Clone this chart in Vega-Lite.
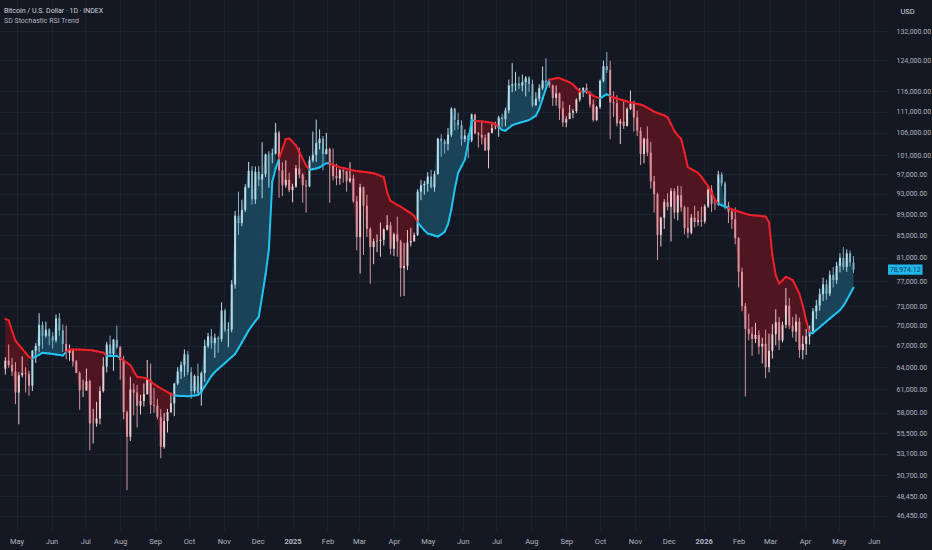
{
  "$schema": "https://vega.github.io/schema/vega-lite/v6.json",
  "width": 888,
  "height": 530,
  "autosize": {"type": "none"},
  "padding": {"left": 0, "top": 0, "right": 44, "bottom": 20},
  "background": "#141823",
  "title": {
    "text": "Bitcoin / U.S. Dollar · 1D · INDEX",
    "subtitle": "SD Stochastic RSI Trend",
    "anchor": "start",
    "frame": "group",
    "orient": "top",
    "offset": -24,
    "dx": 4,
    "font": "Roboto",
    "fontSize": 7,
    "fontWeight": "normal",
    "color": "#d1d4dc",
    "subtitleFont": "Roboto",
    "subtitleFontSize": 7,
    "subtitleColor": "#b2b5be",
    "subtitlePadding": 3
  },
  "data": {
    "values": [
      {"d":"2024-04-21","o":63800,"h":65400,"l":63000,"c":64900,"t":71000},
      {"d":"2024-04-24","o":64900,"h":67200,"l":63900,"c":64300,"t":70800},
      {"d":"2024-04-27","o":64300,"h":65300,"l":62800,"c":63400,"t":69200},
      {"d":"2024-04-30","o":63400,"h":64700,"l":59100,"c":60600,"t":67750},
      {"d":"2024-05-03","o":60600,"h":63300,"l":56600,"c":62900,"t":67150},
      {"d":"2024-05-06","o":62900,"h":65500,"l":62600,"c":63200,"t":66570},
      {"d":"2024-05-09","o":63200,"h":64000,"l":60600,"c":63100,"t":65990},
      {"d":"2024-05-12","o":63100,"h":63500,"l":60200,"c":61500,"t":65420},
      {"d":"2024-05-15","o":61500,"h":66400,"l":60800,"c":66300,"t":65210},
      {"d":"2024-05-18","o":66300,"h":67400,"l":64600,"c":67000,"t":65490},
      {"d":"2024-05-21","o":67000,"h":71900,"l":66100,"c":70100,"t":65760},
      {"d":"2024-05-24","o":70100,"h":70600,"l":66600,"c":68500,"t":66010},
      {"d":"2024-05-27","o":68500,"h":70600,"l":68200,"c":69400,"t":65960},
      {"d":"2024-05-30","o":69400,"h":69600,"l":67100,"c":68400,"t":65900},
      {"d":"2024-06-02","o":68400,"h":69000,"l":66600,"c":67800,"t":65830},
      {"d":"2024-06-05","o":67800,"h":71700,"l":67500,"c":71100,"t":65760},
      {"d":"2024-06-08","o":71100,"h":71900,"l":68500,"c":69300,"t":65700},
      {"d":"2024-06-11","o":69300,"h":70200,"l":66100,"c":67300,"t":65630},
      {"d":"2024-06-14","o":67300,"h":70000,"l":65100,"c":66000,"t":66130},
      {"d":"2024-06-17","o":66000,"h":67200,"l":64900,"c":66400,"t":66510},
      {"d":"2024-06-20","o":66400,"h":66600,"l":64100,"c":64800,"t":66500},
      {"d":"2024-06-23","o":64800,"h":65000,"l":63200,"c":63200,"t":66490},
      {"d":"2024-06-26","o":63200,"h":63400,"l":58400,"c":60900,"t":66470},
      {"d":"2024-06-29","o":60900,"h":62300,"l":60000,"c":60900,"t":66440},
      {"d":"2024-07-02","o":60900,"h":63800,"l":60800,"c":62100,"t":66410},
      {"d":"2024-07-05","o":62100,"h":62300,"l":53500,"c":56700,"t":66410},
      {"d":"2024-07-08","o":56700,"h":58500,"l":54300,"c":56700,"t":66340},
      {"d":"2024-07-11","o":56700,"h":59400,"l":56300,"c":57300,"t":66240},
      {"d":"2024-07-14","o":57300,"h":61400,"l":56600,"c":60800,"t":66140},
      {"d":"2024-07-17","o":60800,"h":65400,"l":60600,"c":64100,"t":66040},
      {"d":"2024-07-20","o":64100,"h":67600,"l":63300,"c":67200,"t":65560},
      {"d":"2024-07-23","o":67200,"h":68500,"l":65500,"c":65900,"t":65560},
      {"d":"2024-07-26","o":65900,"h":68000,"l":63500,"c":67900,"t":65560},
      {"d":"2024-07-29","o":67900,"h":70000,"l":66600,"c":66800,"t":65560},
      {"d":"2024-08-01","o":66800,"h":67000,"l":62300,"c":65000,"t":65280},
      {"d":"2024-08-04","o":65000,"h":65600,"l":57200,"c":58100,"t":64970},
      {"d":"2024-08-07","o":58100,"h":58300,"l":49100,"c":55100,"t":64620},
      {"d":"2024-08-10","o":55100,"h":62700,"l":54600,"c":61000,"t":64300},
      {"d":"2024-08-13","o":61000,"h":61800,"l":57700,"c":60600,"t":63450},
      {"d":"2024-08-16","o":60600,"h":61600,"l":56200,"c":58900,"t":62690},
      {"d":"2024-08-19","o":58900,"h":60300,"l":57800,"c":59500,"t":62620},
      {"d":"2024-08-22","o":59500,"h":61800,"l":58800,"c":60400,"t":62550},
      {"d":"2024-08-25","o":60400,"h":65000,"l":60300,"c":62300,"t":62420},
      {"d":"2024-08-28","o":62300,"h":64500,"l":57900,"c":59000,"t":62070},
      {"d":"2024-08-31","o":59000,"h":61200,"l":58000,"c":58900,"t":61730},
      {"d":"2024-09-03","o":58900,"h":59800,"l":57200,"c":57500,"t":61410},
      {"d":"2024-09-06","o":57500,"h":58500,"l":52600,"c":53900,"t":61160},
      {"d":"2024-09-09","o":53900,"h":58000,"l":53700,"c":57000,"t":60900},
      {"d":"2024-09-12","o":57000,"h":58500,"l":55600,"c":58100,"t":60660},
      {"d":"2024-09-15","o":58100,"h":60600,"l":58000,"c":59200,"t":60370},
      {"d":"2024-09-18","o":59200,"h":61800,"l":57600,"c":61800,"t":60210},
      {"d":"2024-09-21","o":61800,"h":64000,"l":61600,"c":63400,"t":60190},
      {"d":"2024-09-24","o":63400,"h":64800,"l":62400,"c":64300,"t":60160},
      {"d":"2024-09-27","o":64300,"h":66500,"l":62700,"c":65800,"t":60140},
      {"d":"2024-09-30","o":65800,"h":66300,"l":62900,"c":63300,"t":60110},
      {"d":"2024-10-03","o":63300,"h":64000,"l":59800,"c":60800,"t":60140},
      {"d":"2024-10-06","o":60800,"h":63000,"l":60500,"c":62800,"t":60210},
      {"d":"2024-10-09","o":62800,"h":64500,"l":60300,"c":60600,"t":60290},
      {"d":"2024-10-12","o":60600,"h":63400,"l":58900,"c":63200,"t":60700},
      {"d":"2024-10-15","o":63200,"h":67900,"l":62000,"c":67000,"t":61390},
      {"d":"2024-10-18","o":67000,"h":68900,"l":66700,"c":68400,"t":62100},
      {"d":"2024-10-21","o":68400,"h":69500,"l":66600,"c":67400,"t":62800},
      {"d":"2024-10-24","o":67400,"h":68800,"l":65300,"c":68200,"t":63340},
      {"d":"2024-10-27","o":68200,"h":68400,"l":66000,"c":68000,"t":63750},
      {"d":"2024-10-30","o":68000,"h":73600,"l":67600,"c":72300,"t":64160},
      {"d":"2024-11-02","o":72300,"h":72600,"l":69000,"c":69300,"t":64580},
      {"d":"2024-11-05","o":69300,"h":70500,"l":66800,"c":69400,"t":65000},
      {"d":"2024-11-08","o":69400,"h":77200,"l":69000,"c":76500,"t":65420},
      {"d":"2024-11-11","o":76500,"h":89600,"l":75800,"c":88700,"t":65840},
      {"d":"2024-11-14","o":88700,"h":93400,"l":85100,"c":87300,"t":66650},
      {"d":"2024-11-17","o":87300,"h":91800,"l":86700,"c":89800,"t":67510},
      {"d":"2024-11-20","o":89800,"h":94900,"l":89400,"c":94300,"t":68390},
      {"d":"2024-11-23","o":94300,"h":99600,"l":94100,"c":97700,"t":69270},
      {"d":"2024-11-26","o":97700,"h":98700,"l":90800,"c":91900,"t":70000},
      {"d":"2024-11-29","o":91900,"h":98600,"l":91000,"c":97500,"t":70670},
      {"d":"2024-12-02","o":97500,"h":98700,"l":94500,"c":95900,"t":71330},
      {"d":"2024-12-05","o":95900,"h":103900,"l":92100,"c":97000,"t":74560},
      {"d":"2024-12-08","o":97000,"h":101400,"l":96400,"c":101200,"t":78100},
      {"d":"2024-12-11","o":101200,"h":101900,"l":94200,"c":101200,"t":82560},
      {"d":"2024-12-14","o":101200,"h":102500,"l":99300,"c":101400,"t":95400},
      {"d":"2024-12-17","o":101400,"h":108300,"l":101200,"c":106100,"t":98210},
      {"d":"2024-12-20","o":106100,"h":106500,"l":92200,"c":97800,"t":100300},
      {"d":"2024-12-23","o":97800,"h":99500,"l":92500,"c":94700,"t":102440},
      {"d":"2024-12-26","o":94700,"h":99900,"l":94200,"c":95800,"t":104640},
      {"d":"2024-12-29","o":95800,"h":97300,"l":93300,"c":93700,"t":104750},
      {"d":"2025-01-01","o":93700,"h":95000,"l":91300,"c":94400,"t":103990},
      {"d":"2025-01-04","o":94400,"h":98900,"l":94200,"c":98200,"t":103200},
      {"d":"2025-01-07","o":98200,"h":102700,"l":96100,"c":96900,"t":101720},
      {"d":"2025-01-10","o":96900,"h":97200,"l":91200,"c":94700,"t":100260},
      {"d":"2025-01-13","o":94700,"h":95800,"l":89300,"c":94500,"t":98780},
      {"d":"2025-01-16","o":94500,"h":100800,"l":94300,"c":99900,"t":97910},
      {"d":"2025-01-19","o":99900,"h":106300,"l":99500,"c":101100,"t":98040},
      {"d":"2025-01-22","o":101100,"h":109100,"l":99600,"c":103700,"t":98170},
      {"d":"2025-01-25","o":103700,"h":106800,"l":102300,"c":104700,"t":98420},
      {"d":"2025-01-28","o":104700,"h":105300,"l":97800,"c":101300,"t":98870},
      {"d":"2025-01-31","o":101300,"h":106000,"l":101200,"c":102400,"t":99300},
      {"d":"2025-02-03","o":102400,"h":102700,"l":91200,"c":98900,"t":99280},
      {"d":"2025-02-06","o":98900,"h":102500,"l":95700,"c":96600,"t":98980},
      {"d":"2025-02-09","o":96600,"h":99200,"l":94700,"c":96100,"t":98700},
      {"d":"2025-02-12","o":96100,"h":98100,"l":94800,"c":97800,"t":98470},
      {"d":"2025-02-15","o":97800,"h":98000,"l":95200,"c":97600,"t":98300},
      {"d":"2025-02-18","o":97600,"h":97700,"l":93400,"c":95500,"t":98130},
      {"d":"2025-02-21","o":95500,"h":99500,"l":95200,"c":96100,"t":97940},
      {"d":"2025-02-24","o":96100,"h":96900,"l":91200,"c":91500,"t":97770},
      {"d":"2025-02-27","o":91500,"h":92500,"l":82300,"c":84700,"t":97660},
      {"d":"2025-03-02","o":84700,"h":95000,"l":78300,"c":94300,"t":97560},
      {"d":"2025-03-05","o":94300,"h":94400,"l":81500,"c":90600,"t":97480},
      {"d":"2025-03-08","o":90600,"h":92800,"l":84700,"c":86200,"t":97380},
      {"d":"2025-03-11","o":86200,"h":86500,"l":76600,"c":82900,"t":97290},
      {"d":"2025-03-14","o":82900,"h":84400,"l":79900,"c":83900,"t":97190},
      {"d":"2025-03-17","o":83900,"h":85200,"l":82000,"c":84000,"t":96940},
      {"d":"2025-03-20","o":84000,"h":87400,"l":81200,"c":84200,"t":96650},
      {"d":"2025-03-23","o":84200,"h":86300,"l":83200,"c":86100,"t":96360},
      {"d":"2025-03-26","o":86100,"h":88800,"l":85900,"c":86900,"t":93270},
      {"d":"2025-03-29","o":86900,"h":87500,"l":81600,"c":82600,"t":91550},
      {"d":"2025-04-01","o":82600,"h":85500,"l":81300,"c":85200,"t":91180},
      {"d":"2025-04-04","o":85200,"h":88500,"l":81200,"c":83900,"t":90790},
      {"d":"2025-04-07","o":83900,"h":84200,"l":74500,"c":79200,"t":90420},
      {"d":"2025-04-10","o":79200,"h":83600,"l":74600,"c":79600,"t":89990},
      {"d":"2025-04-13","o":79600,"h":86000,"l":78900,"c":83700,"t":89580},
      {"d":"2025-04-16","o":83700,"h":86400,"l":83000,"c":84000,"t":89170},
      {"d":"2025-04-19","o":84000,"h":85500,"l":83800,"c":85100,"t":88650},
      {"d":"2025-04-22","o":85100,"h":93900,"l":84900,"c":93400,"t":87420},
      {"d":"2025-04-25","o":93400,"h":95800,"l":91700,"c":94700,"t":86690},
      {"d":"2025-04-28","o":94700,"h":95600,"l":92800,"c":95000,"t":85930},
      {"d":"2025-05-01","o":95000,"h":97400,"l":93400,"c":96500,"t":85340},
      {"d":"2025-05-04","o":96500,"h":97900,"l":94000,"c":94300,"t":85160},
      {"d":"2025-05-07","o":94300,"h":97700,"l":93400,"c":97000,"t":84980},
      {"d":"2025-05-10","o":97000,"h":104900,"l":96900,"c":104700,"t":84800},
      {"d":"2025-05-13","o":104700,"h":105700,"l":100700,"c":104200,"t":85180},
      {"d":"2025-05-16","o":104200,"h":104600,"l":101400,"c":103500,"t":85650},
      {"d":"2025-05-19","o":103500,"h":107100,"l":102100,"c":105600,"t":87040},
      {"d":"2025-05-22","o":105600,"h":112000,"l":105100,"c":111700,"t":89910},
      {"d":"2025-05-25","o":111700,"h":111900,"l":106600,"c":109000,"t":93910},
      {"d":"2025-05-28","o":109000,"h":110700,"l":106800,"c":107800,"t":97230},
      {"d":"2025-05-31","o":107800,"h":108900,"l":103100,"c":104600,"t":98660},
      {"d":"2025-06-03","o":104600,"h":106800,"l":103900,"c":105400,"t":100070},
      {"d":"2025-06-06","o":105400,"h":106000,"l":100400,"c":104300,"t":103810},
      {"d":"2025-06-09","o":104300,"h":110500,"l":103900,"c":110300,"t":108950},
      {"d":"2025-06-12","o":110300,"h":110400,"l":105700,"c":105900,"t":108800},
      {"d":"2025-06-15","o":105900,"h":106200,"l":102700,"c":105600,"t":108710},
      {"d":"2025-06-18","o":105600,"h":108900,"l":103400,"c":104900,"t":108640},
      {"d":"2025-06-21","o":104900,"h":105600,"l":102000,"c":102100,"t":108560},
      {"d":"2025-06-24","o":102100,"h":106100,"l":98200,"c":106000,"t":108450},
      {"d":"2025-06-27","o":106000,"h":108100,"l":105900,"c":107100,"t":108350},
      {"d":"2025-06-30","o":107100,"h":108600,"l":106800,"c":107100,"t":108000},
      {"d":"2025-07-03","o":107100,"h":110000,"l":105100,"c":109600,"t":107400},
      {"d":"2025-07-06","o":109600,"h":110500,"l":107300,"c":109200,"t":106680},
      {"d":"2025-07-09","o":109200,"h":111900,"l":107500,"c":111300,"t":106520},
      {"d":"2025-07-12","o":111300,"h":118900,"l":110600,"c":117400,"t":107130},
      {"d":"2025-07-15","o":117400,"h":123200,"l":115700,"c":117700,"t":107780},
      {"d":"2025-07-18","o":117700,"h":120900,"l":116000,"c":117900,"t":108060},
      {"d":"2025-07-21","o":117900,"h":119700,"l":116500,"c":117400,"t":108300},
      {"d":"2025-07-24","o":117400,"h":120200,"l":115900,"c":118300,"t":108530},
      {"d":"2025-07-27","o":118300,"h":119800,"l":114700,"c":119400,"t":108770},
      {"d":"2025-07-30","o":119400,"h":119800,"l":115800,"c":117800,"t":109000},
      {"d":"2025-08-02","o":117800,"h":118900,"l":112000,"c":112500,"t":109500},
      {"d":"2025-08-05","o":112500,"h":115700,"l":112400,"c":114100,"t":109990},
      {"d":"2025-08-08","o":114100,"h":117700,"l":113400,"c":116700,"t":111650},
      {"d":"2025-08-11","o":116700,"h":122300,"l":116300,"c":118700,"t":114120},
      {"d":"2025-08-14","o":118700,"h":124500,"l":117200,"c":118300,"t":116650},
      {"d":"2025-08-17","o":118300,"h":119200,"l":116800,"c":117500,"t":118830},
      {"d":"2025-08-20","o":117500,"h":117600,"l":112400,"c":114300,"t":119060},
      {"d":"2025-08-23","o":114300,"h":117400,"l":112400,"c":115400,"t":119240},
      {"d":"2025-08-26","o":115400,"h":115600,"l":109000,"c":111800,"t":119290},
      {"d":"2025-08-29","o":111800,"h":113500,"l":107400,"c":108400,"t":118930},
      {"d":"2025-09-01","o":108400,"h":109900,"l":107300,"c":109200,"t":118570},
      {"d":"2025-09-04","o":109200,"h":112600,"l":109200,"c":110700,"t":118200},
      {"d":"2025-09-07","o":110700,"h":111600,"l":109400,"c":111100,"t":117640},
      {"d":"2025-09-10","o":111100,"h":114200,"l":110600,"c":113900,"t":116780},
      {"d":"2025-09-13","o":113900,"h":116800,"l":113400,"c":115800,"t":115920},
      {"d":"2025-09-16","o":115800,"h":117000,"l":114500,"c":116800,"t":115820},
      {"d":"2025-09-19","o":116800,"h":117900,"l":115300,"c":115700,"t":116020},
      {"d":"2025-09-22","o":115700,"h":116000,"l":112000,"c":112700,"t":115440},
      {"d":"2025-09-25","o":112700,"h":113900,"l":108600,"c":109000,"t":114860},
      {"d":"2025-09-28","o":109000,"h":112400,"l":108700,"c":112100,"t":114440},
      {"d":"2025-10-01","o":112100,"h":118900,"l":111600,"c":118600,"t":114210},
      {"d":"2025-10-04","o":118600,"h":123900,"l":118200,"c":122400,"t":114760},
      {"d":"2025-10-07","o":122400,"h":126200,"l":120600,"c":121400,"t":115210},
      {"d":"2025-10-10","o":121400,"h":123800,"l":104600,"c":113200,"t":114740},
      {"d":"2025-10-13","o":113200,"h":115900,"l":109700,"c":113000,"t":114410},
      {"d":"2025-10-16","o":113000,"h":115000,"l":107500,"c":108200,"t":114170},
      {"d":"2025-10-19","o":108200,"h":109200,"l":103500,"c":108600,"t":113920},
      {"d":"2025-10-22","o":108600,"h":113900,"l":106900,"c":107600,"t":113680},
      {"d":"2025-10-25","o":107600,"h":112000,"l":107500,"c":111600,"t":113410},
      {"d":"2025-10-28","o":111600,"h":116100,"l":111300,"c":112900,"t":113210},
      {"d":"2025-10-31","o":112900,"h":113600,"l":106300,"c":109600,"t":113040},
      {"d":"2025-11-03","o":109600,"h":111200,"l":105300,"c":106500,"t":112840},
      {"d":"2025-11-06","o":106500,"h":107300,"l":98900,"c":101300,"t":112670},
      {"d":"2025-11-09","o":101300,"h":104900,"l":99300,"c":104700,"t":112380},
      {"d":"2025-11-12","o":104700,"h":107500,"l":100800,"c":101600,"t":111900},
      {"d":"2025-11-15","o":101600,"h":104000,"l":94000,"c":95500,"t":111430},
      {"d":"2025-11-18","o":95500,"h":96600,"l":89300,"c":92900,"t":110970},
      {"d":"2025-11-21","o":92900,"h":93200,"l":80600,"c":85100,"t":110660},
      {"d":"2025-11-24","o":85100,"h":88500,"l":83000,"c":88300,"t":110350},
      {"d":"2025-11-27","o":88300,"h":91900,"l":86200,"c":91300,"t":110110},
      {"d":"2025-11-30","o":91300,"h":93100,"l":89700,"c":90400,"t":109630},
      {"d":"2025-12-03","o":90400,"h":94100,"l":83900,"c":93500,"t":108050},
      {"d":"2025-12-06","o":93500,"h":94100,"l":88100,"c":89300,"t":106480},
      {"d":"2025-12-09","o":89300,"h":94600,"l":87800,"c":92700,"t":105440},
      {"d":"2025-12-12","o":92700,"h":94500,"l":89500,"c":90300,"t":104680},
      {"d":"2025-12-15","o":90300,"h":90600,"l":85200,"c":86400,"t":101680},
      {"d":"2025-12-18","o":86400,"h":90400,"l":84500,"c":85500,"t":98470},
      {"d":"2025-12-21","o":85500,"h":89000,"l":85200,"c":88300,"t":98060},
      {"d":"2025-12-24","o":88300,"h":90600,"l":86500,"c":87500,"t":97660},
      {"d":"2025-12-27","o":87500,"h":89600,"l":86800,"c":87800,"t":97250},
      {"d":"2025-12-30","o":87800,"h":90400,"l":86600,"c":87600,"t":96420},
      {"d":"2026-01-02","o":87600,"h":90900,"l":87200,"c":90500,"t":95460},
      {"d":"2026-01-05","o":90500,"h":94400,"l":90200,"c":93800,"t":94530},
      {"d":"2026-01-08","o":93800,"h":94700,"l":89400,"c":91000,"t":93190},
      {"d":"2026-01-11","o":91000,"h":92000,"l":89800,"c":90900,"t":91830},
      {"d":"2026-01-14","o":90900,"h":97700,"l":90600,"c":96900,"t":91000},
      {"d":"2026-01-17","o":96900,"h":97400,"l":94500,"c":95100,"t":90720},
      {"d":"2026-01-20","o":95100,"h":95500,"l":89900,"c":90600,"t":90450},
      {"d":"2026-01-23","o":90600,"h":91400,"l":87300,"c":89500,"t":90180},
      {"d":"2026-01-26","o":89500,"h":90000,"l":86200,"c":88000,"t":89920},
      {"d":"2026-01-29","o":88000,"h":90300,"l":83400,"c":84500,"t":89680},
      {"d":"2026-02-01","o":84500,"h":84700,"l":76000,"c":78600,"t":89490},
      {"d":"2026-02-04","o":78600,"h":79300,"l":72200,"c":73000,"t":89280},
      {"d":"2026-02-07","o":73000,"h":73500,"l":60100,"c":69500,"t":89080},
      {"d":"2026-02-10","o":69500,"h":71800,"l":67800,"c":68800,"t":88890},
      {"d":"2026-02-13","o":68800,"h":69800,"l":65600,"c":68000,"t":88790},
      {"d":"2026-02-16","o":68000,"h":70400,"l":67400,"c":68600,"t":88720},
      {"d":"2026-02-19","o":68600,"h":69300,"l":65800,"c":66900,"t":88660},
      {"d":"2026-02-22","o":66900,"h":68200,"l":64500,"c":67300,"t":88590},
      {"d":"2026-02-25","o":67300,"h":69400,"l":62500,"c":64000,"t":88530},
      {"d":"2026-02-28","o":64000,"h":68800,"l":63300,"c":66300,"t":87450},
      {"d":"2026-03-03","o":66300,"h":70200,"l":65200,"c":68700,"t":81480},
      {"d":"2026-03-06","o":68700,"h":72500,"l":67100,"c":70500,"t":78030},
      {"d":"2026-03-09","o":70500,"h":71300,"l":66400,"c":67800,"t":76630},
      {"d":"2026-03-12","o":67800,"h":70600,"l":67500,"c":70100,"t":77190},
      {"d":"2026-03-15","o":70100,"h":75900,"l":69600,"c":73100,"t":77760},
      {"d":"2026-03-18","o":73100,"h":74300,"l":69500,"c":70000,"t":77500},
      {"d":"2026-03-21","o":70000,"h":71300,"l":68200,"c":69100,"t":77220},
      {"d":"2026-03-24","o":69100,"h":71700,"l":67600,"c":70600,"t":76100},
      {"d":"2026-03-27","o":70600,"h":71200,"l":65300,"c":66400,"t":74940},
      {"d":"2026-03-30","o":66400,"h":68500,"l":65100,"c":67300,"t":73090},
      {"d":"2026-04-02","o":67300,"h":69500,"l":65700,"c":68400,"t":70780},
      {"d":"2026-04-05","o":68400,"h":70000,"l":67200,"c":69200,"t":68840},
      {"d":"2026-04-08","o":69200,"h":72700,"l":68700,"c":72200,"t":68900},
      {"d":"2026-04-11","o":72200,"h":74000,"l":71000,"c":73100,"t":69340},
      {"d":"2026-04-14","o":73100,"h":75800,"l":72300,"c":74900,"t":69760},
      {"d":"2026-04-17","o":74900,"h":77600,"l":73800,"c":76500,"t":70190},
      {"d":"2026-04-20","o":76500,"h":77300,"l":74000,"c":75000,"t":70620},
      {"d":"2026-04-23","o":75000,"h":78800,"l":74600,"c":78100,"t":71060},
      {"d":"2026-04-26","o":78100,"h":79400,"l":76000,"c":77200,"t":71490},
      {"d":"2026-04-29","o":77200,"h":80300,"l":76600,"c":79600,"t":71940},
      {"d":"2026-05-02","o":79600,"h":81800,"l":78500,"c":81000,"t":72380},
      {"d":"2026-05-05","o":81000,"h":82900,"l":78900,"c":79400,"t":73030},
      {"d":"2026-05-08","o":79400,"h":82500,"l":78600,"c":81800,"t":73970},
      {"d":"2026-05-11","o":81800,"h":82300,"l":79500,"c":80200,"t":74940},
      {"d":"2026-05-14","o":80200,"h":81300,"l":78400,"c":78974.12,"t":75950}
    ]
  },
  "transform": [
    {"calculate": "datum.c >= datum.t ? 'up' : 'down'", "as": "s"},
    {"calculate": "datum.s + (datum.c >= datum.o ? '1' : '0')", "as": "cs"},
    {"window": [{"op": "lag", "field": "s", "as": "ps"}], "sort": [{"field": "d"}]},
    {"calculate": "datum.ps == null || datum.ps != datum.s ? 1 : 0", "as": "chg"},
    {"window": [{"op": "sum", "field": "chg", "as": "g"}], "sort": [{"field": "d"}], "frame": [null, 0]},
    {"window": [{"op": "lead", "field": "d", "as": "nd"}, {"op": "lead", "field": "t", "as": "nt"}], "sort": [{"field": "d"}]}
  ],
  "layer": [
    {
      "mark": {"type": "area", "opacity": 0.85},
      "encoding": {
        "x": {
          "field": "d",
          "type": "temporal",
          "title": null,
          "scale": {"domain": ["2024-04-20T17:00:00", "2026-06-09T05:00:00"]},
          "axis": {
            "tickCount": {"interval": "month", "step": 1},
            "labelExpr": "month(datum.value) == 0 ? timeFormat(datum.value, '%Y') : timeFormat(datum.value, '%b')",
            "labelFont": "Roboto",
            "labelFontSize": 7.5,
            "labelColor": "#b2b5be",
            "labelFontWeight": {"condition": {"test": "month(datum.value) == 0", "value": "bold"}, "value": "normal"},
            "labelPadding": 7,
            "labelOverlap": false,
            "labelFlush": false,
            "domain": false,
            "ticks": false,
            "tickSize": 0,
            "grid": true,
            "gridColor": "#1d2230"
          }
        },
        "y": {
          "field": "t",
          "type": "quantitative",
          "scale": {"type": "log", "domain": [45070, 141140], "nice": false},
          "axis": {
            "orient": "right",
            "values": [46450, 48450, 50700, 53100, 55500, 58000, 61000, 64000, 67000, 70000, 73000, 77000, 81000, 85000, 89000, 93000, 97000, 101000, 106000, 111000, 116000, 124000, 132000],
            "format": ",.2f",
            "labelFont": "Roboto",
            "labelFontSize": 7,
            "labelColor": "#b2b5be",
            "labelPadding": 8,
            "domain": false,
            "ticks": false,
            "tickSize": 0,
            "grid": true,
            "gridColor": "#1d2230",
            "title": "USD",
            "titleAngle": 0,
            "titleAlign": "left",
            "titleBaseline": "middle",
            "titleX": 12,
            "titleY": 11,
            "titleFont": "Roboto",
            "titleFontSize": 7.5,
            "titleFontWeight": "normal",
            "titleColor": "#d1d4dc"
          }
        },
        "y2": {"field": "c"},
        "color": {
          "field": "s",
          "type": "nominal",
          "scale": {"domain": ["up", "down"], "range": ["#1b4b61", "#5b1620"]},
          "legend": null
        },
        "detail": {"field": "g", "type": "nominal"}
      }
    },
    {
      "mark": {"type": "rule", "strokeWidth": 1},
      "encoding": {
        "x": {"field": "d", "type": "temporal", "axis": null},
        "y": {"field": "l", "type": "quantitative", "scale": {"type": "log", "domain": [45070, 141140], "nice": false}, "axis": null},
        "y2": {"field": "h"},
        "color": {
          "field": "cs",
          "type": "nominal",
          "scale": {"domain": ["up1", "up0", "down1", "down0"], "range": ["#b7dbe6", "#7fb1c4", "#f0c8cd", "#d8939d"]},
          "legend": null
        }
      }
    },
    {
      "mark": {"type": "bar", "size": 2},
      "encoding": {
        "x": {"field": "d", "type": "temporal", "axis": null},
        "y": {"field": "o", "type": "quantitative", "scale": {"type": "log", "domain": [45070, 141140], "nice": false}, "axis": null},
        "y2": {"field": "c"},
        "color": {
          "field": "cs",
          "type": "nominal",
          "scale": {"domain": ["up1", "up0", "down1", "down0"], "range": ["#b7dbe6", "#7fb1c4", "#f0c8cd", "#d8939d"]},
          "legend": null
        }
      }
    },
    {
      "transform": [{"filter": "datum.nd != null"}],
      "mark": {"type": "rule", "strokeWidth": 2, "strokeCap": "round"},
      "encoding": {
        "x": {"field": "d", "type": "temporal", "axis": null},
        "x2": {"field": "nd"},
        "y": {"field": "t", "type": "quantitative", "scale": {"type": "log", "domain": [45070, 141140], "nice": false}, "axis": null},
        "y2": {"field": "nt"},
        "color": {
          "field": "s",
          "type": "nominal",
          "scale": {"domain": ["up", "down"], "range": ["#22c4f0", "#f0212a"]},
          "legend": null
        }
      }
    },
    {
      "transform": [{"filter": "datum.nd == null"}],
      "mark": {"type": "point", "shape": "M-1,-0.3L1,-0.3L1,0.3L-1,0.3Z", "filled": true, "opacity": 1, "strokeWidth": 0, "clip": false},
      "encoding": {
        "x": {"datum": {"year": 2026, "month": 6, "date": 29}, "type": "temporal", "axis": null},
        "y": {"field": "c", "type": "quantitative", "scale": {"type": "log", "domain": [45070, 141140], "nice": false}, "axis": null},
        "size": {"value": 1190},
        "color": {"value": "#1fb6ea"}
      }
    },
    {
      "transform": [{"filter": "datum.nd == null"}],
      "mark": {"type": "text", "font": "Roboto", "fontSize": 7, "align": "center", "baseline": "middle", "color": "#0f3852", "clip": false},
      "encoding": {
        "x": {"datum": {"year": 2026, "month": 6, "date": 29}, "type": "temporal", "axis": null},
        "y": {"field": "c", "type": "quantitative", "scale": {"type": "log", "domain": [45070, 141140], "nice": false}, "axis": null},
        "text": {"field": "c", "type": "quantitative", "format": ",.2f"}
      }
    }
  ],
  "resolve": {
    "scale": {"color": "independent"},
    "axis": {"x": "independent", "y": "independent"}
  },
  "config": {
    "view": {"stroke": null}
  }
}
